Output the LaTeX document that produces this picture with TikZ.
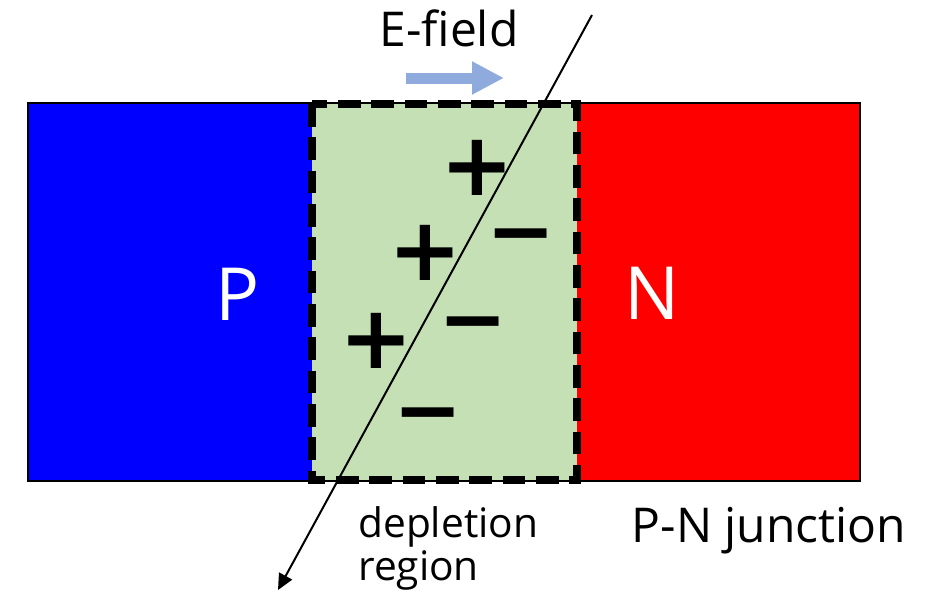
\documentclass[tikz,border=0pt]{standalone}
\usepackage{fontspec}
\setmainfont{Open Sans}
\newfontfamily\signfont{DejaVu Sans}
\usetikzlibrary{arrows.meta}
\definecolor{pblue}{HTML}{0000FF}
\definecolor{nred}{HTML}{FF0000}
\definecolor{depl}{HTML}{C5E0B4}
\definecolor{efield}{HTML}{8FAADC}
\tikzset{
  region/.style={inner sep=0pt, outer sep=0pt, anchor=north west, minimum height=378*0.75pt},
  typelabel/.style={text=white, font=\fontsize{55}{60}\selectfont, anchor=base, inner sep=0pt},
  caption/.style={font=\fontsize{36}{40}\selectfont, inner sep=0pt},
  plussign/.style={font=\signfont\bfseries\fontsize{66}{70}\selectfont, inner sep=0pt, text height=40pt, text depth=0pt, anchor=center},
  minussign/.style={font=\signfont\bfseries\fontsize{62}{70}\selectfont, inner sep=0pt, text height=43pt, text depth=0pt, anchor=center},
  dashedborder/.style={draw=black, line width=5.5pt, dash pattern=on 17pt off 8pt},
}
\begin{document}
\begin{tikzpicture}[x=0.75pt,y=-0.75pt]
\useasboundingbox (0,0) rectangle (933,596);
% regions
\node[region, fill=pblue, minimum width=284*0.75pt] (P) at (28,103) {};
\node[region, fill=nred, minimum width=283*0.75pt] (N) at (577,103) {};
\draw[line width=1.1pt] (P.north west) rectangle (N.south east);
\node[region, fill=depl, minimum width=265*0.75pt, minimum height=376*0.75pt] (D) at (312,104) {};
\draw[dashedborder] (D.north west) rectangle (D.south east);
% labels
\node[typelabel] (Plab) at (238,320) {P};
\node[typelabel] (Nlab) at (652,319) {N};
\node[caption, anchor=base] (Elab) at (449,46) {E-field};
\node[caption, anchor=base] (PN) at (769,542) {P-N junction};
\node[caption, anchor=base west, align=left, font=\fontsize{30.5}{32}\selectfont] (DL) at (358,580) {depletion\\region};
% E-field arrow
\coordinate (E1) at (406,78);
\coordinate (E2) at (504,78);
\draw[efield, line width=8.25pt, -{Triangle[length=24pt, width=23.25pt]}] (E1) -- (E2);
% charges
\node[plussign] (p1) at (477,169) {+};
\node[plussign] (p2) at (425,254) {+};
\node[plussign] (p3) at (376,342) {+};
\node[minussign] (m1) at (521,231) {−};
\node[minussign] (m2) at (473,319) {−};
\node[minussign] (m3) at (428,410) {−};
% crossing line
\coordinate (L1) at (592,15);
\coordinate (L2) at (278,590);
\draw[line width=1.5pt, -{Triangle[length=12pt, width=11pt]}] (L1) -- (L2);
\end{tikzpicture}
\end{document}
